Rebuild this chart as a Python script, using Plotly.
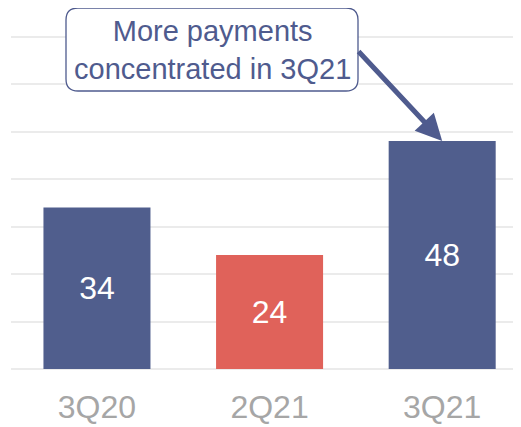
import plotly.graph_objects as go

categories = ["3Q20", "2Q21", "3Q21"]
values = [34, 24, 48]
bar_colors = ["#505E8D", "#E0625A", "#505E8D"]
callout_text = "More payments<br>concentrated in 3Q21"

W, H = 521, 427
OFF = 8  # page body offset
ML, MR, MT, MB = 3, 0, 0, 66
PW, PH = W - ML - MR, H - MT - MB


def px_x(px):
    return (px - OFF - ML) / PW


def px_y(py):
    return (H - MB - (py - OFF)) / PH


fig = go.Figure()
fig.add_trace(go.Bar(
    x=categories, y=values,
    marker=dict(color=bar_colors, line=dict(width=0)),
    text=[str(v) for v in values],
    textposition="inside", insidetextanchor="middle",
    textfont=dict(color="white", size=32, family="Liberation Sans, Arial"),
    width=0.62, hoverinfo="skip",
))

# rounded callout box
x0, x1, y0, y1, r = 66, 358, 8, 91, 12
rx, ry = r / PW, r / PH
X0, X1, Y0, Y1 = px_x(x0), px_x(x1), px_y(y1), px_y(y0)
path = (f"M {X0+rx},{Y1} L {X1-rx},{Y1} Q {X1},{Y1} {X1},{Y1-ry} "
        f"L {X1},{Y0+ry} Q {X1},{Y0} {X1-rx},{Y0} "
        f"L {X0+rx},{Y0} Q {X0},{Y0} {X0},{Y0+ry} "
        f"L {X0},{Y1-ry} Q {X0},{Y1} {X0+rx},{Y1} Z")
fig.add_shape(type="path", path=path, xref="paper", yref="paper",
              line=dict(color="#4F5B8E", width=1.3), fillcolor="white", layer="above")

fig.add_annotation(
    x=px_x(212), y=px_y(50), xref="paper", yref="paper",
    text=callout_text, showarrow=False, xanchor="center", yanchor="middle",
    font=dict(size=29, color="#4F5B8E", family="Liberation Sans, Arial"),
)

# arrow to 3Q21 bar
fig.add_annotation(
    x=categories[2], y=values[2], xref="x", yref="y",
    ax=-85, ay=-91, axref="pixel", ayref="pixel",
    text="", showarrow=True, arrowhead=2, arrowsize=1.05, arrowwidth=5,
    arrowcolor="#4F5B8E", standoff=0, startstandoff=0,
)

fig.update_layout(
    width=W, height=H,
    margin=dict(l=ML, r=MR, t=MT, b=MB, pad=0),
    plot_bgcolor="white", paper_bgcolor="white",
    showlegend=False, bargap=0.38,
    font=dict(family="Liberation Sans, Arial"),
)
fig.update_xaxes(
    range=[-0.498, 2.503], showgrid=False, zeroline=False, showline=False,
    ticks="", tickfont=dict(size=32, color="#A6A6A6"), ticklabelstandoff=16,
)
fig.update_yaxes(
    range=[0, 76.0], dtick=10, showgrid=True, gridcolor="#EBEBEB", gridwidth=2,
    zeroline=True, zerolinecolor="#EBEBEB", zerolinewidth=2,
    showticklabels=False, ticks="",
)

fig.write_html("out.html")
